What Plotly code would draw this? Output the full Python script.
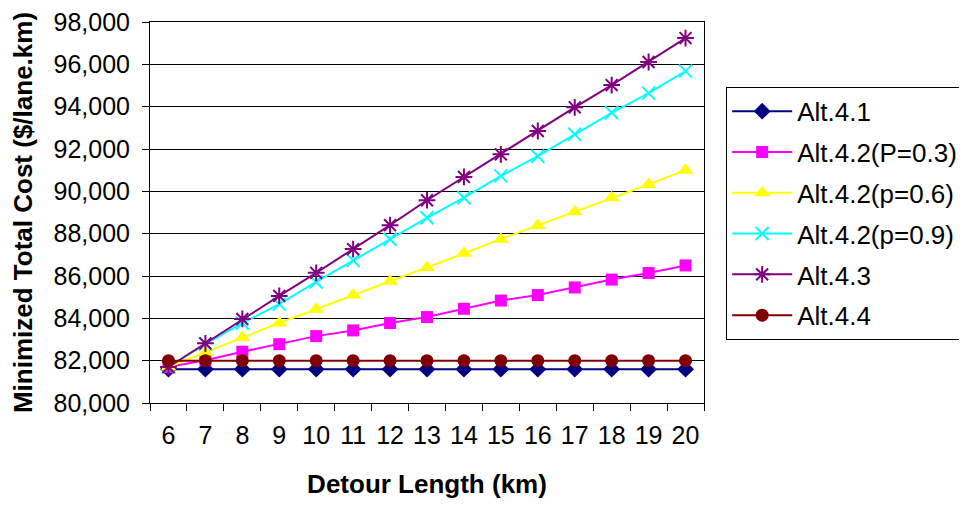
import plotly.graph_objects as go

# detour length categories (km)
detour_km = [6, 7, 8, 9, 10, 11, 12, 13, 14, 15, 16, 17, 18, 19, 20]

# minimized total cost ($/lane.km)
alt_4_1 = [81600] * 15
alt_4_2_p03 = [81700, 82020, 82420, 82780, 83160, 83430, 83780, 84060, 84450,
               84840, 85100, 85460, 85830, 86140, 86500]
alt_4_2_p06 = [81700, 82400, 83100, 83780, 84430, 85100, 85750, 86400, 87080,
               87740, 88390, 89030, 89700, 90320, 91000]
alt_4_2_p09 = [81700, 82780, 83780, 84670, 85720, 86730, 87740, 88750, 89700,
               90730, 91660, 92700, 93710, 94640, 95680]
alt_4_3 = [81700, 82820, 83970, 85060, 86150, 87270, 88400, 89580, 90680,
           91750, 92850, 93970, 95020, 96110, 97240]
alt_4_4 = [82000] * 15

y_ticks = list(range(80000, 98001, 2000))

series = [
    ("Alt.4.1", alt_4_1, "#000080", "diamond", 13),
    ("Alt.4.2(P=0.3)", alt_4_2_p03, "#FF00FF", "square", 12),
    ("Alt.4.2(p=0.6)", alt_4_2_p06, "#FFFF00", "triangle-up", 14),
    ("Alt.4.2(p=0.9)", alt_4_2_p09, "#00FFFF", "x-thin-open", 13),
    ("Alt.4.3", alt_4_3, "#800080", "asterisk-open", 14),
    ("Alt.4.4", alt_4_4, "#800000", "circle", 13),
]

x_labels = [str(v) for v in detour_km]

fig = go.Figure()
for i, (name, vals, color, symbol, size) in enumerate(series):
    open_marker = symbol.endswith("open")
    fig.add_trace(go.Scatter(
        x=x_labels, y=vals, name=name, mode="lines+markers",
        legendgroup=f"g{i}",
        line=dict(color=color, width=2),
        marker=dict(symbol=symbol, size=size, color=color,
                    line=dict(color=color, width=2 if open_marker else 0)),
    ))

font = "Liberation Sans, Arial, sans-serif"

# the page body adds an 8px offset, margins are set to compensate
fig.update_layout(
    width=967, height=506,
    margin=dict(l=142, r=269, t=14, b=111),
    paper_bgcolor="white", plot_bgcolor="white",
    font=dict(family=font, color="black", size=25),
    showlegend=True,
    legend=dict(
        x=1.04, y=0.83, xanchor="left", yanchor="top",
        bordercolor="black", borderwidth=1,
        font=dict(size=26, family=font),
        traceorder="grouped", tracegroupgap=4,
        itemwidth=60,
    ),
)

fig.update_xaxes(
    type="category", range=[-0.5, 14.5], automargin=False,
    showline=True, linecolor="black", linewidth=1, mirror=True,
    ticks="outside", tickson="boundaries", ticklen=7, tickcolor="black",
    ticklabelstandoff=10,
    showgrid=False,
    tickfont=dict(size=25),
    title=dict(text="<b>Detour Length (km)</b>", font=dict(size=26), standoff=26),
)
fig.update_yaxes(
    range=[80000, 98000], tickvals=y_ticks, tickformat=",d", automargin=False,
    showline=True, linecolor="black", linewidth=1, mirror=True,
    ticks="outside", ticklen=7, tickcolor="black",
    ticklabelstandoff=7, ticklabeloverflow="allow",
    showgrid=True, gridcolor="black", gridwidth=1,
    zeroline=False,
    tickfont=dict(size=25),
    title=dict(text="<b>Minimized Total Cost ($/lane.km)</b>", font=dict(size=26), standoff=16),
)

fig.write_html("out.html", config={"displayModeBar": False})
